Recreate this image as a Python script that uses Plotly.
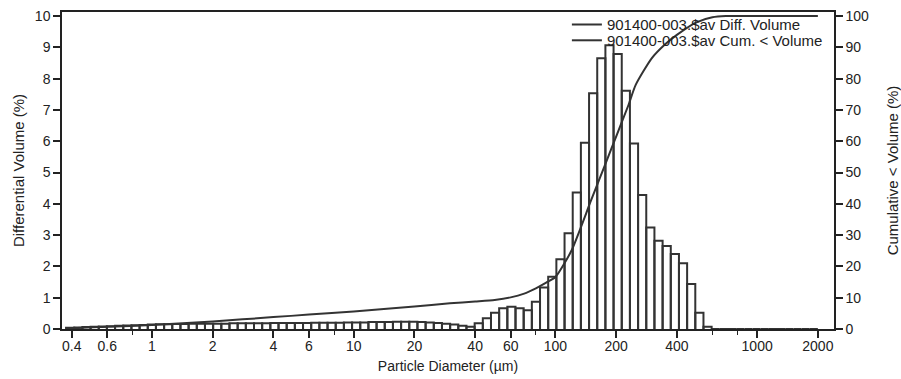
import plotly.graph_objects as go

# Channel edges of the size analyser (µm), 92 log-spaced channels
channel_edges_um = [
    0.375, 0.4117, 0.4519, 0.4961, 0.5446, 0.5978, 0.6563, 0.7205, 0.7909, 0.8682,
    0.9531, 1.0463, 1.1486, 1.2609, 1.3842, 1.5195, 1.6681, 1.8311, 2.0102, 2.2067,
    2.4224, 2.6593, 2.9193, 3.2047, 3.5180, 3.8620, 4.2396, 4.6541, 5.1091, 5.6086,
    6.1570, 6.7590, 7.4198, 8.1453, 8.9416, 9.8159, 10.776, 11.829, 12.986, 14.255,
    15.649, 17.179, 18.859, 20.702, 22.726, 24.948, 27.387, 30.065, 33.005, 36.231,
    39.774, 43.663, 47.932, 52.618, 57.762, 63.410, 69.609, 76.415, 83.886, 92.088,
    101.09, 110.98, 121.83, 133.74, 146.81, 161.17, 176.92, 194.22, 213.21, 234.05,
    256.94, 282.06, 309.63, 339.91, 373.14, 409.62, 449.67, 493.63, 541.90, 594.88,
    653.04, 716.88, 786.97, 863.91, 948.37, 1041.1, 1142.9, 1254.6, 1377.3, 1511.9,
    1659.8, 1822.0, 2000.0,
]

# Differential volume per channel (%)
diff_volume_pct = [
    0.04, 0.05, 0.06, 0.07, 0.08, 0.09, 0.10, 0.11, 0.12, 0.13,
    0.14, 0.15, 0.15, 0.16, 0.16, 0.17, 0.17, 0.17, 0.17, 0.17,
    0.18, 0.18, 0.18, 0.18, 0.18, 0.19, 0.19, 0.19, 0.19, 0.19,
    0.20, 0.20, 0.20, 0.20, 0.21, 0.21, 0.21, 0.22, 0.22, 0.22,
    0.23, 0.23, 0.23, 0.22, 0.21, 0.19, 0.17, 0.14, 0.10, 0.07,
    0.18, 0.34, 0.52, 0.66, 0.71, 0.66, 0.60, 0.87, 1.33, 1.67,
    2.23, 3.06, 4.36, 5.95, 7.53, 8.65, 9.07, 8.79, 7.61, 5.93,
    4.28, 3.24, 2.82, 2.65, 2.40, 2.10, 1.44, 0.52, 0.07, 0.00,
    0.00, 0.00, 0.00, 0.00, 0.00, 0.00, 0.00, 0.00, 0.00, 0.00,
    0.00, 0.00,
]

# Cumulative < volume curve (%)
cum_size_um = [0.375, 0.4, 0.6, 1, 2, 4, 6, 10, 20, 30, 40, 50, 60, 70, 80, 90,
               100, 120, 150, 180, 200, 230, 250, 300, 350, 400, 500, 600, 700, 1000, 2000]
cum_volume_pct = [0.0, 0.2, 0.7, 1.3, 2.4, 3.8, 4.6, 5.6, 7.2, 8.2, 8.8, 9.3, 10.1, 11.3, 13.0, 14.8,
                  16.6, 25.0, 41.0, 54.0, 61.5, 71.5, 78.0, 86.5, 91.0, 94.0, 98.0, 99.6, 100.0, 100.0, 100.0]

x_tick_vals = [0.4, 0.6, 1, 2, 4, 6, 10, 20, 40, 60, 100, 200, 400, 1000, 2000]
x_tick_text = ["0.4", "0.6", "1", "2", "4", "6", "10", "20", "40", "60", "100", "200", "400", "1000", "2000"]
x_minor_vals = [0.8, 8, 80, 600, 800]

INK = "#222222"
MARK = "#333333"
FONT = "Liberation Sans, Arial, sans-serif"

# Outline every channel as an open rectangle on the shared axes
bar_x, bar_y = [], []
for lo, hi, v in zip(channel_edges_um[:-1], channel_edges_um[1:], diff_volume_pct):
    bar_x += [lo, lo, hi, hi, None]
    bar_y += [0, v, v, 0, None]

fig = go.Figure()
fig.add_trace(go.Scatter(
    x=bar_x, y=bar_y, mode="lines", yaxis="y",
    line=dict(color=MARK, width=2),
    name="901400-003.$av Diff. Volume", legend="legend",
))
fig.add_trace(go.Scatter(
    x=cum_size_um, y=cum_volume_pct, mode="lines", yaxis="y2",
    line=dict(color=MARK, width=2, shape="spline", smoothing=0.6),
    name="901400-003.$av Cum. < Volume", legend="legend2",
))

legend_style = dict(
    xanchor="left", yanchor="top", bgcolor="rgba(0,0,0,0)",
    font=dict(size=15, color=INK), itemwidth=30,
)

fig.update_layout(
    width=901, height=379,
    margin=dict(l=62, r=67, t=12, b=50, autoexpand=False),
    paper_bgcolor="white", plot_bgcolor="white",
    font=dict(family=FONT, size=14, color=INK),
    showlegend=True,
    legend=dict(x=0.654, y=1.012, **legend_style),
    legend2=dict(x=0.654, y=0.962, **legend_style),
    xaxis=dict(
        type="log", range=[-0.446, 3.381], automargin=False,
        tickmode="array", tickvals=x_tick_vals, ticktext=x_tick_text,
        ticks="outside", ticklen=7, tickwidth=1.5, tickcolor=INK,
        ticklabelstandoff=-4,
        showline=True, linecolor=INK, linewidth=1.5, mirror=True,
        showgrid=False, zeroline=False,
        tickfont=dict(size=14),
        title=dict(text="Particle Diameter (µm)", font=dict(size=14), standoff=9),
        minor=dict(tickmode="array", tickvals=x_minor_vals, ticks="outside",
                   ticklen=4, tickwidth=1.2, tickcolor=INK, showgrid=False),
    ),
    yaxis=dict(
        range=[0, 10.13], tickmode="array", tickvals=list(range(0, 11)),
        automargin=False,
        ticks="outside", ticklen=7, tickwidth=1.5, tickcolor=INK,
        showline=True, linecolor=INK, linewidth=1.5,
        showgrid=False, zeroline=False, tickfont=dict(size=14),
        title=dict(text="Differential Volume (%)", font=dict(size=15), standoff=7),
    ),
    yaxis2=dict(
        overlaying="y", side="right", automargin=False,
        range=[0, 101.3], tickmode="array", tickvals=list(range(0, 101, 10)),
        ticks="outside", ticklen=7, tickwidth=1.5, tickcolor=INK,
        showline=True, linecolor=INK, linewidth=1.5,
        showgrid=False, zeroline=False, tickfont=dict(size=14),
        title=dict(text="Cumulative < Volume (%)", font=dict(size=15), standoff=20),
    ),
)

fig.write_html("out.html")
